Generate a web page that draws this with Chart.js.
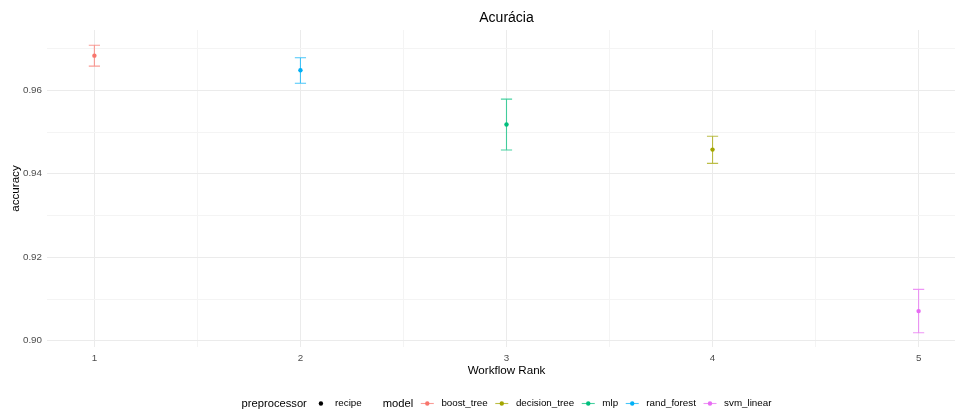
<!DOCTYPE html>
<html>
<head>
<meta charset="utf-8">
<script src="https://cdn.jsdelivr.net/npm/chart.js@4/dist/chart.umd.min.js"></script>
<style>
  html, body { margin: 0; padding: 0; background: #ffffff; }
  #wrap { width: 955px; height: 409px; overflow: hidden; position: relative; }
  #wrap canvas { position: absolute; left: 0; top: 0; }
</style>
</head>
<body>
<div id="wrap"><canvas id="chart" width="1013" height="409"></canvas></div>
<script>
// Workflow ranking results: mean accuracy and interval bounds per workflow
const ranks = [1, 2, 3, 4, 5];
const rankModels = ['boost_tree', 'rand_forest', 'mlp', 'decision_tree', 'svm_linear'];
const meanAccuracy = [0.9683, 0.9648, 0.9518, 0.9458, 0.9071];
const lowerAccuracy = [0.9658, 0.9617, 0.9457, 0.9425, 0.9019];
const upperAccuracy = [0.9708, 0.9678, 0.9579, 0.9490, 0.9123];

// Legend entries (alphabetical, as in the model scale)
const modelNames = ['boost_tree', 'decision_tree', 'mlp', 'rand_forest', 'svm_linear'];
const modelColors = ['#F8766D', '#A3A500', '#00BF7D', '#00B0F6', '#E76BF3'];
const preprocessorNames = ['recipe'];

// Axis ticks
const xMajorTicks = [1, 2, 3, 4, 5];
const xMinorTicks = [1.5, 2.5, 3.5, 4.5];
const yMajorTicks = [0.90, 0.92, 0.94, 0.96];
const yMinorTicks = [0.91, 0.93, 0.95, 0.97];

const FONT = "'Liberation Sans', Arial, sans-serif";

function withAlpha(hex, a) {
  const n = parseInt(hex.slice(1), 16);
  return `rgba(${(n >> 16) & 255},${(n >> 8) & 255},${n & 255},${a})`;
}

// One dataset per model; each point carries its interval bounds
const datasets = modelNames.map((m, mi) => {
  const pts = [];
  rankModels.forEach((rm, i) => { if (rm === m) pts.push({ x: ranks[i], y: meanAccuracy[i], lo: lowerAccuracy[i], hi: upperAccuracy[i] }); });
  return {
    label: m,
    data: pts,
    backgroundColor: modelColors[mi],
    borderColor: modelColors[mi],
    pointRadius: 2.2,
    pointHoverRadius: 2.2,
    borderWidth: 0,
    showLine: false
  };
});

// Vertical error bars with caps, drawn under the points
const errorBars = {
  id: 'errorBars',
  beforeDatasetsDraw(chart) {
    const { ctx, scales: { x, y } } = chart;
    const cap = 5.6;
    ctx.save();
    chart.data.datasets.forEach(ds => {
      ds.data.forEach(p => {
        const px = x.getPixelForValue(p.x);
        const yl = y.getPixelForValue(p.lo);
        const yh = y.getPixelForValue(p.hi);
        ctx.strokeStyle = withAlpha(ds.borderColor, 0.72);
        ctx.lineWidth = 1.1;
        ctx.beginPath();
        ctx.moveTo(px, yl); ctx.lineTo(px, yh);
        ctx.moveTo(px - cap, yh); ctx.lineTo(px + cap, yh);
        ctx.moveTo(px - cap, yl); ctx.lineTo(px + cap, yl);
        ctx.stroke();
      });
    });
    ctx.restore();
  }
};

// Bottom legend: preprocessor shape guide followed by model colour guide
const bottomLegend = {
  id: 'bottomLegend',
  afterDraw(chart) {
    const { ctx, chartArea } = chart;
    const titleFont = `11.2px ${FONT}`;
    const labelFont = `9.8px ${FONT}`;
    const keyW = 17, gap = 5.6, groupGap = 21;
    ctx.save();
    ctx.textBaseline = 'middle';
    ctx.textAlign = 'left';
    const w = (t, f) => { ctx.font = f; return ctx.measureText(t).width; };
    let total = w('preprocessor', titleFont) + gap;
    preprocessorNames.forEach(n => { total += keyW + gap + w(n, labelFont); });
    total += groupGap + w('model', titleFont);
    modelNames.forEach(n => { total += gap + keyW + gap + w(n, labelFont); });
    let cx = (chartArea.left + chartArea.right) / 2 - total / 2;
    const cy = 403.5;
    ctx.fillStyle = '#000000';
    ctx.font = titleFont;
    ctx.fillText('preprocessor', cx, cy);
    cx += w('preprocessor', titleFont) + gap;
    preprocessorNames.forEach(n => {
      ctx.fillStyle = '#000000';
      ctx.beginPath(); ctx.arc(cx + keyW / 2, cy, 2.2, 0, Math.PI * 2); ctx.fill();
      cx += keyW + gap;
      ctx.font = labelFont;
      ctx.fillText(n, cx, cy);
      cx += w(n, labelFont);
    });
    cx += groupGap;
    ctx.font = titleFont;
    ctx.fillStyle = '#000000';
    ctx.fillText('model', cx, cy);
    cx += w('model', titleFont);
    modelNames.forEach((n, i) => {
      cx += gap;
      ctx.strokeStyle = withAlpha(modelColors[i], 0.72);
      ctx.lineWidth = 1.1;
      ctx.beginPath(); ctx.moveTo(cx + 2, cy); ctx.lineTo(cx + keyW - 2, cy); ctx.stroke();
      ctx.fillStyle = modelColors[i];
      ctx.beginPath(); ctx.arc(cx + keyW / 2, cy, 2.2, 0, Math.PI * 2); ctx.fill();
      cx += keyW + gap;
      ctx.fillStyle = '#000000';
      ctx.font = labelFont;
      ctx.fillText(n, cx, cy);
      cx += w(n, labelFont);
    });
    ctx.restore();
  }
};

const gridColor = (major) => (ctx) => major.includes(ctx.tick && ctx.tick.value) ? '#EBEBEB' : '#F4F4F4';

new Chart(document.getElementById('chart'), {
  type: 'scatter',
  data: { datasets },
  options: {
    responsive: false,
    animation: false,
    events: [],
    layout: { padding: { left: 0, right: 47, top: 0, bottom: 0 } },
    plugins: {
      legend: { display: false },
      tooltip: { enabled: false },
      title: {
        display: true,
        text: 'Acurácia',
        fullSize: false,
        color: '#000000',
        font: { family: FONT, size: 14, weight: 'normal' },
        padding: { top: 10, bottom: 3.2 }
      }
    },
    scales: {
      x: {
        type: 'linear',
        min: 0.77,
        max: 5.23,
        afterBuildTicks: axis => { axis.ticks = [...xMajorTicks, ...xMinorTicks].sort((a, b) => a - b).map(v => ({ value: v })); },
        afterFit: axis => { axis.height = 62; },
        border: { display: false },
        grid: { drawTicks: false, color: gridColor(xMajorTicks), lineWidth: 1 },
        ticks: {
          autoSkip: false,
          maxRotation: 0,
          padding: 5,
          color: '#4D4D4D',
          font: { family: FONT, size: 9.8 },
          callback: v => xMajorTicks.includes(v) ? String(v) : ''
        },
        title: {
          display: true,
          text: 'Workflow Rank',
          color: '#000000',
          font: { family: FONT, size: 11.6 },
          padding: { top: 0, bottom: 31 }
        }
      },
      y: {
        type: 'linear',
        min: 0.8985,
        max: 0.97445,
        afterBuildTicks: axis => { axis.ticks = [...yMajorTicks, ...yMinorTicks].sort((a, b) => a - b).map(v => ({ value: v })); },
        afterFit: axis => { axis.width = 47; },
        border: { display: false },
        grid: { drawTicks: false, color: gridColor(yMajorTicks), lineWidth: 1 },
        ticks: {
          autoSkip: false,
          padding: 5,
          color: '#4D4D4D',
          font: { family: FONT, size: 9.8 },
          callback: v => yMajorTicks.includes(v) ? v.toFixed(2) : ''
        },
        title: {
          display: true,
          text: 'accuracy',
          color: '#000000',
          font: { family: FONT, size: 11.6 },
          padding: { top: 8.5, bottom: 0 }
        }
      }
    }
  },
  plugins: [errorBars, bottomLegend]
});
</script>
</body>
</html>
